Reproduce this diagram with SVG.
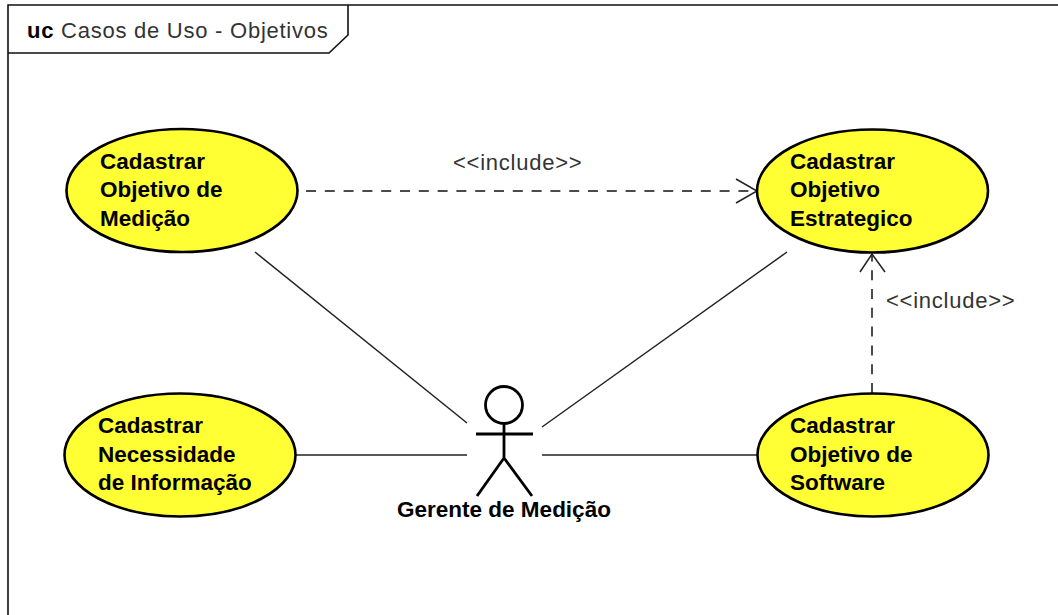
<svg xmlns="http://www.w3.org/2000/svg" width="1058" height="615" viewBox="0 0 1058 615">
<style>
.uc{fill:#ffff33;stroke:#000;stroke-width:2.6}
.ln{fill:none;stroke:#222;stroke-width:1.5}
.ds{stroke:#111;stroke-dasharray:10 8.800}
.act{fill:none;stroke:#000;stroke-width:2.8}
.b{font:bold 22.5px "Liberation Sans",Arial,sans-serif;fill:#000}
.t{font:22px "Liberation Sans",Arial,sans-serif;letter-spacing:.75px;fill:#333}
</style>
<rect width="1058" height="615" fill="#fff"/>
<g id="frame">
<path d="M8 615V5H1058M348 5V35L329 53H8" fill="none" stroke="#111" stroke-width="1.6"/>
<text x="27" y="38" class="t"><tspan font-weight="bold" fill="#000">uc</tspan> Casos de Uso - Objetivos</text>
</g>
<g id="connectors">
<path class="ln ds" d="M306 191H755"/>
<path class="ln" d="M736 179L757 191L736 203"/>
<text x="453" y="170" class="t">&lt;&lt;include&gt;&gt;</text>
<path class="ln ds" d="M872 393V255"/>
<path class="ln" d="M860 272L872 254L885 272"/>
<text x="886" y="308" class="t">&lt;&lt;include&gt;&gt;</text>
<path class="ln" d="M255 252L467 423"/>
<path class="ln" d="M787 252L542 427"/>
<path class="ln" d="M296 455H467"/>
<path class="ln" d="M542 455H757"/>
</g>
<g id="uc1"><ellipse class="uc" cx="182" cy="190.500" rx="115.500" ry="61.500"/><text class="b" x="100" y="169">Cadastrar</text><text class="b" x="100" y="197">Objetivo de</text><text class="b" x="100" y="226">Medição</text></g>
<g id="uc2"><ellipse class="uc" cx="872.500" cy="191" rx="115.500" ry="61.500"/><text class="b" x="790" y="169">Cadastrar</text><text class="b" x="790" y="197">Objetivo</text><text class="b" x="790" y="226">Estrategico</text></g>
<g id="uc3"><ellipse class="uc" cx="180" cy="455" rx="115.500" ry="61.500"/><text class="b" x="98" y="433">Cadastrar</text><text class="b" x="98" y="462">Necessidade</text><text class="b" x="98" y="490">de Informação</text></g>
<g id="uc4"><ellipse class="uc" cx="873" cy="455" rx="115.500" ry="61.500"/><text class="b" x="790" y="433">Cadastrar</text><text class="b" x="790" y="462">Objetivo de</text><text class="b" x="790" y="490">Software</text></g>
<g id="actor">
<circle class="act" cx="504" cy="405" r="18.500"/>
<path class="act" d="M504 423V458M476 434H533M504 458L477 496M504 458L532 496"/>
<text class="b" x="504" y="517" text-anchor="middle">Gerente de Medição</text>
</g>
</svg>
